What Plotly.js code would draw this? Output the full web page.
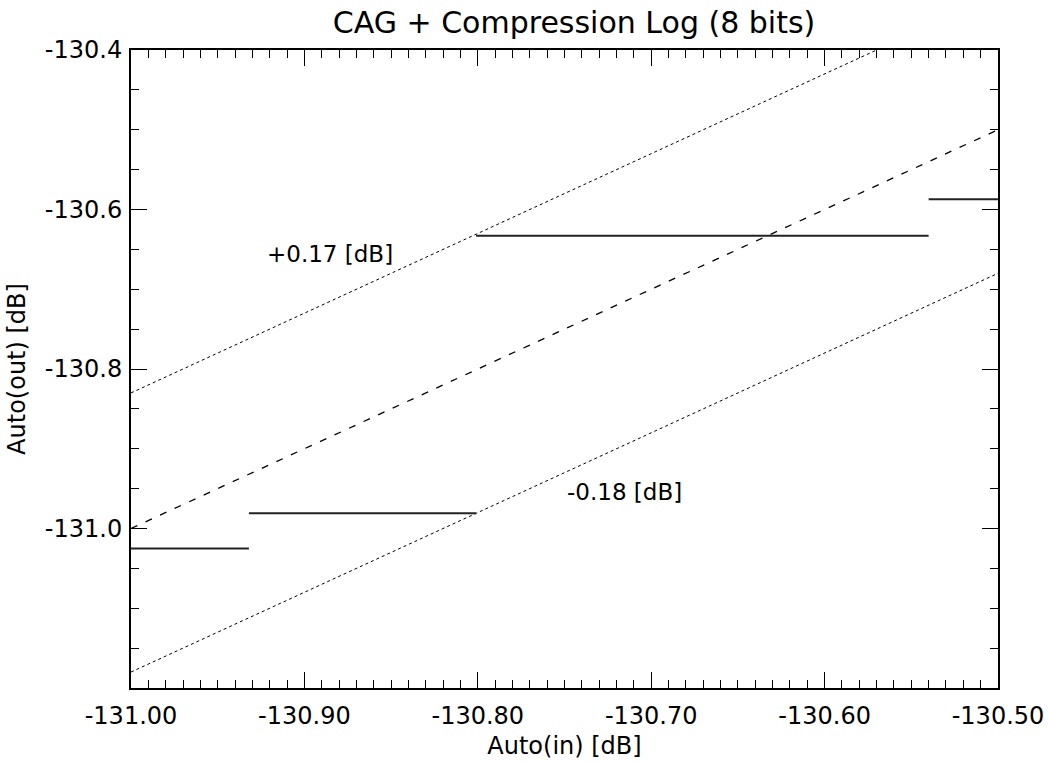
<!DOCTYPE html>
<html>
<head>
<meta charset="utf-8">
<script src="https://cdn.plot.ly/plotly-3.0.1.min.js"></script>
<style>html,body{margin:0;padding:0;background:#fff;}#chart{width:1049px;height:763px;}</style>
</head>
<body>
<div id="chart"></div>
<script>
// Reference lines: y = x + offset
const refX = [-131.0, -130.5];
const offsetIdeal = 0.0;
const offsetUpper = 0.17;
const offsetLower = -0.18;

// Quantized output steps (8-bit log compression)
const stepStart = [-131.000, -130.932, -130.801, -130.540];
const stepEnd   = [-130.932, -130.801, -130.540, -130.500];
const stepLevel = [-131.025, -130.981, -130.633, -130.587];

// Tick labels
const xTickVals = [-131.0, -130.9, -130.8, -130.7, -130.6, -130.5];
const xTickText = ['-131.00', '-130.90', '-130.80', '-130.70', '-130.60', '-130.50'];
const yTickVals = [-131.0, -130.8, -130.6, -130.4];
const yTickText = ['-131.0', '-130.8', '-130.6', '-130.4'];

const labelUpper = '+0.17 [dB]';
const labelLower = '-0.18 [dB]';
const labelUpperPos = [-130.923, -130.656];
const labelLowerPos = [-130.750, -130.954];

const FONT = 'DejaVu Sans, Liberation Sans, Arial, sans-serif';

// build step trace with gaps
const sx = [], sy = [];
for (let i = 0; i < stepStart.length; i++) {
  sx.push(stepStart[i], stepEnd[i], null);
  sy.push(stepLevel[i], stepLevel[i], null);
}

function refLine(off, dash, w) {
  return {
    x: refX, y: refX.map(v => v + off), mode: 'lines', type: 'scatter',
    line: {color: '#000', width: w, dash: dash}, hoverinfo: 'skip', showlegend: false
  };
}

const data = [
  refLine(offsetIdeal, '7px,9px', 1.3),
  refLine(offsetUpper, 'dot', 1),
  refLine(offsetLower, 'dot', 1),
  {x: sx, y: sy, mode: 'lines', type: 'scatter', connectgaps: false,
   line: {color: '#222', width: 2}, showlegend: false}
];

const axisCommon = {
  showgrid: false, zeroline: false, showline: true, linecolor: '#000', linewidth: 2,
  mirror: 'allticks', ticks: 'inside', ticklen: 16, tickwidth: 1, tickcolor: '#000',
  tickfont: {family: FONT, size: 24, color: '#000'}, automargin: false, tickmode: 'array'
};

const layout = {
  width: 1049, height: 763,
  margin: {l: 131, r: 51, t: 50, b: 75},
  paper_bgcolor: '#fff', plot_bgcolor: '#fff',
  showlegend: false,
  title: {text: 'CAG + Compression Log (8 bits)', font: {family: FONT, size: 30, color: '#000'},
          x: 0.511, xref: 'paper', xanchor: 'center', y: 0.971, yref: 'container', yanchor: 'middle'},
  xaxis: Object.assign({}, axisCommon, {
    range: [-131.0, -130.5], tickvals: xTickVals, ticktext: xTickText, ticklabelstandoff: 5,
    minor: {tickmode: 'linear', tick0: -131.0, dtick: 0.01, ticklen: 8, tickwidth: 1, tickcolor: '#000', ticks: 'inside'},
    title: {text: 'Auto(in) [dB]', font: {family: FONT, size: 24, color: '#000'}, standoff: 8}
  }),
  yaxis: Object.assign({}, axisCommon, {
    range: [-131.2, -130.4], tickvals: yTickVals, ticktext: yTickText, ticklabelstandoff: 2,
    minor: {tickmode: 'linear', tick0: -131.2, dtick: 0.05, ticklen: 8, tickwidth: 1, tickcolor: '#000', ticks: 'inside'},
    title: {text: 'Auto(out) [dB]', font: {family: FONT, size: 24, color: '#000'}, standoff: 12}
  }),
  annotations: [
    {x: labelUpperPos[0], y: labelUpperPos[1], text: labelUpper, showarrow: false, xanchor: 'left', yanchor: 'middle',
     font: {family: FONT, size: 23, color: '#000'}},
    {x: labelLowerPos[0], y: labelLowerPos[1], text: labelLower, showarrow: false, xanchor: 'left', yanchor: 'middle',
     font: {family: FONT, size: 23, color: '#000'}}
  ]
};

Plotly.newPlot('chart', data, layout, {staticPlot: true, displayModeBar: false});
</script>
</body>
</html>
